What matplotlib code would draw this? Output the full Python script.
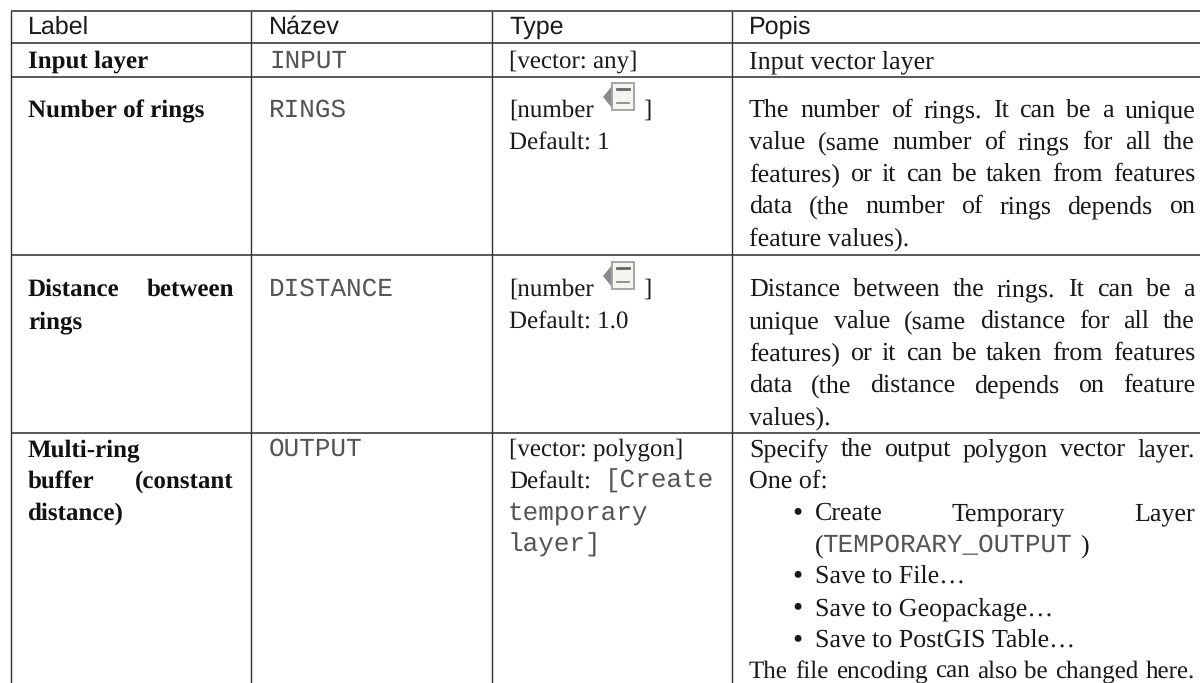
import matplotlib
matplotlib.use("Agg")
import matplotlib.pyplot as plt
from matplotlib.patches import Polygon, Rectangle

plt.rcParams["text.hinting"] = "no_hinting"
plt.rcParams["text.hinting_factor"] = 1

headers = ["Label", "Název", "Type", "Popis"]
col_lines = [10.5, 251, 491.5, 732]
row_lines = [11, 43, 77, 255, 433]

label_lines = [("Input layer", 60, False), ("Number of rings", 109, False),
               ("Distance between", 288, True), ("rings", 320, False),
               ("Multi-ring", 448, False), ("buffer (constant", 480, True), ("distance)", 512, False)]
name_lines = [("INPUT", 60), ("RINGS", 109), ("DISTANCE", 288), ("OUTPUT", 448)]
type_serif = [("[vector: any]", 60), ("Default: 1", 141), ("Default: 1.0", 320),
              ("[vector: polygon]", 448), ("Default:", 480)]
type_number = [109, 288]
type_mono = [("[Create", 480, 605), ("temporary", 512, 508), ("layer]", 544, 508)]
popis_lines = [("Input vector layer", 60, 749, False),
    ("The number of rings. It can be a unique", 109, 749, True),
    ("value (same number of rings for all the", 141, 749, True),
    ("features) or it can be taken from features", 173, 749, True),
    ("data (the number of rings depends on", 205, 749, True),
    ("feature values).", 237, 749, False),
    ("Distance between the rings. It can be a", 288, 749, True),
    ("unique value (same distance for all the", 320, 749, True),
    ("features) or it can be taken from features", 352, 749, True),
    ("data (the distance depends on feature", 384, 749, True),
    ("values).", 416, 749, False),
    ("Specify the output polygon vector layer.", 448, 749, True),
    ("One of:", 480, 749, False),
    ("Create Temporary Layer", 512, 815, True),
    ("Save to File…", 575, 815, False),
    ("Save to Geopackage…", 607, 815, False),
    ("Save to PostGIS Table…", 639, 815, False)]
last_line = "The file encoding can also be changed here."
bullet_rows = [512, 575, 607, 639]

SERIF = "Liberation Serif"
MONO = "Liberation Mono"
SANS = "Liberation Sans"
FS = 18.7
TIGHT_FS = 18.3
MONO_FS = 19.0
MONO_INK = "#555555"
INK = "#1a1a1a"
RIGHT = 1195
LABEL_RIGHT = 234

fig = plt.figure(figsize=(12, 6.83), dpi=100)
ax = fig.add_axes([0, 0, 1, 1])
ax.set_xlim(0, 1200)
ax.set_ylim(683, 0)
ax.axis("off")
rend = fig.canvas.get_renderer()

def put(x, y, s, **kw):
    kw.setdefault("family", SERIF)
    kw.setdefault("fontsize", FS)
    kw.setdefault("color", INK)
    return ax.text(x, y, s, va="baseline", ha="left", **kw)

def line(x, y, s, justify_to=None, **kw):
    base = y + 8
    if justify_to is None:
        return put(x, base, s, **kw)
    words = s.split(" ")
    arts = [put(x, base, w, **kw) for w in words]
    widths = [a.get_window_extent(rend).width for a in arts]
    gap = (justify_to - x - sum(widths)) / max(1, len(words) - 1)
    cx = x
    for a, w in zip(arts, widths):
        a.set_x(cx)
        cx += w + gap

for x in col_lines:
    ax.plot([x, x], [row_lines[0], 683], color="#333333", lw=1.0, solid_capstyle="butt")
for y in row_lines:
    ax.plot([col_lines[0], 1200], [y, y], color="#333333", lw=1.15, solid_capstyle="butt")

for x, h in zip([28, 269, 509, 749], headers):
    put(x, 34, h, family=SANS, fontsize=18.3)
for s, y, j in label_lines:
    line(28, y, s, LABEL_RIGHT if j else None, fontweight="bold", color="#111111", fontsize=TIGHT_FS)
for s, y in name_lines:
    line(269, y, s, family=MONO, fontsize=MONO_FS, color=MONO_INK)
for s, y in type_serif:
    line(509, y, s, fontsize=TIGHT_FS)
for s, y, x in type_mono:
    line(x, y, s, family=MONO, fontsize=MONO_FS, color=MONO_INK)
for y in type_number:
    line(509, y, "[number", fontsize=TIGHT_FS)
    put(643, y + 8, "]", fontsize=TIGHT_FS)
    ox, oy = 603, y - 26
    ax.add_patch(Polygon([(ox, oy + 14), (ox + 9, oy + 3), (ox + 9, oy + 25)], facecolor="#8a8a8a", lw=0))
    ax.add_patch(Rectangle((ox + 9, oy), 22, 27, facecolor="#f4f4f0", edgecolor="#a0a0a0", lw=1.3))
    ax.plot([ox + 14, ox + 26], [oy + 6, oy + 6], color="#666666", lw=2)
    ax.plot([ox + 14, ox + 26], [oy + 20, oy + 20], color="#808080", lw=1.2)
for s, y, x, j in popis_lines:
    line(x, y, s, RIGHT if j else None)
line(749, 670, last_line, RIGHT, fontsize=TIGHT_FS)
for y in bullet_rows:
    put(792, y + 8, "•", fontsize=21)
put(815, 552, "(")
put(822, 552, "TEMPORARY_OUTPUT", family=MONO, fontsize=MONO_FS, color=MONO_INK)
put(1080, 552, ")")

fig.savefig("out.png", dpi=100)
